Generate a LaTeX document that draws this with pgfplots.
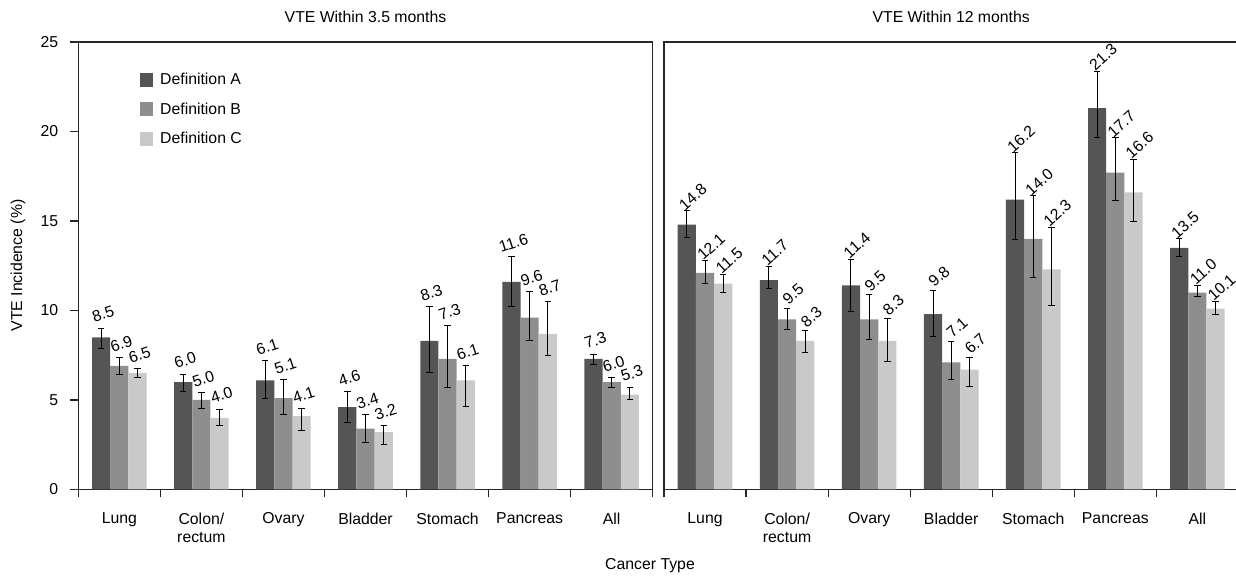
\documentclass[border=0pt]{standalone}
\usepackage{fontspec}
\setmainfont{Liberation Sans}
\usepackage{pgfplots}
\usepackage{pgfplotstable}
\pgfplotsset{compat=1.18}
\newcommand{\fsz}{\fontsize{7.9}{9.2}\selectfont}
\definecolor{cA}{HTML}{555555}
\definecolor{cB}{HTML}{8E8E8E}
\definecolor{cC}{HTML}{C9C9C9}

% 3.5 months: value, error plus, error minus
\pgfplotstableread{
x A Ap Am B Bp Bm C Cp Cm
0 8.5 0.52 0.60 6.9 0.47 0.50 6.5 0.25 0.25
1 6.0 0.44 0.50 5.0 0.41 0.50 4.0 0.49 0.43
2 6.1 1.10 1.00 5.1 1.02 0.90 4.1 0.40 0.83
3 4.6 0.87 0.84 3.4 0.77 0.76 3.2 0.37 0.67
4 8.3 1.92 1.75 7.3 1.86 1.61 6.1 0.80 1.47
5 11.6 1.40 1.38 9.6 1.46 1.30 8.7 1.80 1.24
6 7.3 0.26 0.34 6.0 0.25 0.31 5.3 0.41 0.30
}\leftdata
% 12 months
\pgfplotstableread{
x A Ap Am B Bp Bm C Cp Cm
0 14.8 0.76 0.70 12.1 0.69 0.57 11.5 0.49 0.50
1 11.7 0.76 0.45 9.5 0.63 0.58 8.3 0.56 0.63
2 11.4 1.47 1.45 9.5 1.38 1.14 8.3 1.23 1.15
3 9.8 1.32 1.26 7.1 1.17 0.98 6.7 0.67 0.95
4 16.2 2.60 2.25 14.0 2.40 2.13 12.3 2.36 2.02
5 21.3 2.07 1.66 17.7 1.94 1.55 16.6 1.86 1.63
6 13.5 0.50 0.50 11.0 0.40 0.20 10.1 0.40 0.34
}\rightdata

\pgfplotsset{
  panel/.style={
    scale only axis, width=287.2pt, height=223.75pt,
    anchor=south west,
    xmin=-0.5, xmax=6.5, ymin=0, ymax=25,
    ybar, bar width=9.1pt, clip=false,
    axis line style={line width=0.7pt, black!85},
    tick style={line width=0.6pt, black!85},
    tick align=outside, tick pos=left,
    major tick length=4pt, minor tick length=4pt,
    xtick={0,...,6},
    xticklabels={Lung,{Colon/\\rectum},Ovary,Bladder,Stomach,Pancreas,All},
    minor xtick={-0.5,0.5,...,6.5},
    major x tick style={draw=none},
    xticklabel style={font=\fsz, align=center, yshift=-4pt},
    yticklabel style={font=\fsz, xshift=-2.5pt},
    /pgf/number format/assume math mode=true,
    title style={at={(0.5,1)}, anchor=center, yshift=6.5pt, font=\fsz},
    error bars/y dir=both, error bars/y explicit,
    error bars/error bar style={line width=0.5pt, black},
    error bars/error mark options={rotate=90, mark size=1.6pt, line width=0.5pt, black},
  },
  lab/.style n args={3}{
    visualization depends on={\thisrow{#1}\as\ep},
    point meta=y,
    nodes near coords={\pgfmathprintnumber[fixed,fixed zerofill,precision=1]{\pgfplotspointmeta}},
    nodes near coords style={anchor=center, font=\fsz, inner sep=0pt,
      xshift=#3, yshift={\ep*8.95pt+7pt}, rotate=#2},
  },
}

\begin{document}
\begin{tikzpicture}
\begin{axis}[panel, at={(39.15pt,46.25pt)}, title={VTE Within 3.5 months},
  ytick={0,5,...,25},
  legend style={at={(0.1074,0.931)}, anchor=north west, draw=none, fill=none,
    inner sep=0pt, row sep=7.3pt, font=\fsz,
    nodes={inner sep=0pt, anchor=west}},
  legend cell align=left]
\addplot[fill=cA, draw=none, bar shift=-9.1pt, forget plot, lab={Ap}{18}{1pt}]
  table[x=x, y=A, y error plus=Ap, y error minus=Am]{\leftdata};
\addplot[fill=cB, draw=none, bar shift=0pt, forget plot, lab={Bp}{18}{1pt}]
  table[x=x, y=B, y error plus=Bp, y error minus=Bm]{\leftdata};
\addplot[fill=cC, draw=none, bar shift=9.1pt, forget plot, lab={Cp}{18}{1pt}]
  table[x=x, y=C, y error plus=Cp, y error minus=Cm]{\leftdata};
\addlegendimage{legend image code/.code={\fill[cA] (0pt,-3pt) rectangle (6pt,3.5pt);}}
\addlegendentry{\hspace*{3.5pt}Definition A}
\addlegendimage{legend image code/.code={\fill[cB] (0pt,-3pt) rectangle (6pt,3.5pt);}}
\addlegendentry{\hspace*{3.5pt}Definition B}
\addlegendimage{legend image code/.code={\fill[cC] (0pt,-3pt) rectangle (6pt,3.5pt);}}
\addlegendentry{\hspace*{3.5pt}Definition C}
\end{axis}
\begin{axis}[panel, at={(332pt,46.25pt)}, title={VTE Within 12 months},
  ytick=\empty]
\addplot[fill=cA, draw=none, bar shift=-9.1pt, lab={Ap}{42}{3pt}]
  table[x=x, y=A, y error plus=Ap, y error minus=Am]{\rightdata};
\addplot[fill=cB, draw=none, bar shift=0pt, lab={Bp}{42}{3pt}]
  table[x=x, y=B, y error plus=Bp, y error minus=Bm]{\rightdata};
\addplot[fill=cC, draw=none, bar shift=9.1pt, lab={Cp}{42}{3pt}]
  table[x=x, y=C, y error plus=Cp, y error minus=Cm]{\rightdata};
\end{axis}
\node[font=\fsz] at (325pt,8pt) {Cancer Type};
\node[font=\fsz, rotate=90] at (9pt,158.25pt) {VTE Incidence (\%)};
\pgfresetboundingbox
\path[use as bounding box] (0pt,0pt) rectangle (618pt,291pt);
\end{tikzpicture}
\end{document}
